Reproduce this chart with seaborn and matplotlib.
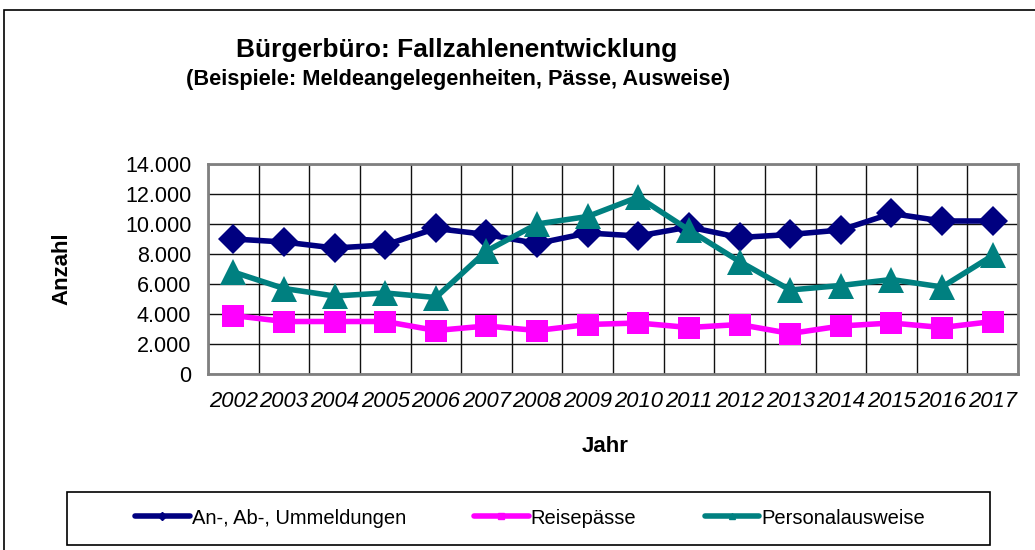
import matplotlib
matplotlib.use('Agg')
import matplotlib.pyplot as plt
from matplotlib.lines import Line2D
from matplotlib.patches import Rectangle
from matplotlib.ticker import FixedLocator, FuncFormatter
import seaborn as sns
import pandas as pd

years = [str(y) for y in range(2002, 2018)]
meldungen = [9000, 8800, 8400, 8600, 9700, 9300, 8700, 9400,
             9200, 9800, 9100, 9300, 9600, 10700, 10200, 10200]
reisepaesse = [3900, 3500, 3500, 3500, 2900, 3200, 2900, 3300,
               3400, 3100, 3300, 2700, 3200, 3400, 3100, 3500]
ausweise = [6800, 5700, 5200, 5400, 5100, 8200, 10000, 10500,
            11800, 9600, 7500, 5600, 5900, 6300, 5800, 7900]

series = ['An-, Ab-, Ummeldungen', 'Reisepässe', 'Personalausweise']
colors = {series[0]: '#000080', series[1]: '#FF00FF', series[2]: '#008080'}
markers = {series[0]: 'D', series[1]: 's', series[2]: '^'}
msize = {series[0]: 15, series[1]: 16.5, series[2]: 19}

df = pd.DataFrame({'Jahr': years * 3,
                   'Anzahl': meldungen + reisepaesse + ausweise,
                   'Serie': [s for s in series for _ in years]})
df['pos'] = df['Jahr'].map({y: i for i, y in enumerate(years)})

sns.set_style('white')
plt.rcParams['font.family'] = ['Liberation Sans', 'DejaVu Sans']
plt.rcParams['text.color'] = 'black'
plt.rcParams['axes.labelcolor'] = 'black'
plt.rcParams['xtick.color'] = 'black'
plt.rcParams['ytick.color'] = 'black'

fig = plt.figure(figsize=(10.35, 5.5), dpi=100)
ax = fig.add_axes([208 / 1035, 1 - 374 / 550, (1018 - 208) / 1035, 210 / 550])

for s in series:
    sns.lineplot(data=df[df['Serie'] == s], x='pos', y='Anzahl', ax=ax,
                 color=colors[s], marker=markers[s], markersize=msize[s],
                 markeredgewidth=0, linewidth=4, legend=False, zorder=3)

ax.set_xlim(-0.5, len(years) - 0.5)
ax.set_ylim(0, 14000)
ax.yaxis.set_major_locator(FixedLocator(range(0, 14001, 2000)))
ax.yaxis.set_major_formatter(FuncFormatter(lambda v, p: f'{int(v):,}'.replace(',', '.')))
ax.set_xticks(range(len(years)))
ax.set_xticklabels(years, fontstyle='italic', fontsize=15.8)
ax.xaxis.set_minor_locator(FixedLocator([i - 0.5 for i in range(len(years) + 1)]))
ax.tick_params(axis='x', which='major', length=0, pad=12)
ax.tick_params(axis='x', which='minor', length=6, width=1.2, color='#555555', direction='out')
ax.tick_params(axis='y', length=6, width=1.2, color='#555555', direction='out',
               labelsize=15.5, labelcolor='black', pad=6)
ax.grid(True, axis='y', which='major', color='#111111', linewidth=1)
ax.grid(True, axis='x', which='minor', color='#111111', linewidth=1)
for sp in ax.spines.values():
    sp.set_visible(True)
    sp.set_color('#808080')
    sp.set_linewidth(2)

ax.set_xlabel('Jahr', fontsize=16, fontweight='bold')
ax.xaxis.set_label_coords((605 - 208) / (1018 - 208), -(447 - 374) / 210)
ax.xaxis.label.set_va('center')
ax.set_ylabel('Anzahl', fontsize=16, fontweight='bold', labelpad=38)

fig.text(457 / 1035, 1 - 50 / 550, 'Bürgerbüro: Fallzahlenentwicklung',
         ha='center', va='center', fontsize=19, fontweight='bold')
fig.text(458 / 1035, 1 - 80 / 550, '(Beispiele: Meldeangelegenheiten, Pässe, Ausweise)',
         ha='center', va='center', fontsize=15.7, fontweight='bold')

handles = [Line2D([], [], color=colors[s], marker=markers[s], markersize=4,
                  linewidth=4, solid_capstyle='round') for s in series]
leg = fig.legend(handles, series, loc='center', ncol=3, fontsize=14.5,
                 bbox_to_anchor=(530 / 1035, 1 - 518 / 550), frameon=False,
                 handlelength=2.7, handletextpad=0.1, columnspacing=3.4)

fig.patches.append(Rectangle((67 / 1035, 1 - 545 / 550), (990 - 67) / 1035, 53 / 550,
                             fill=False, edgecolor='#000000', linewidth=1.2,
                             transform=fig.transFigure, figure=fig))
fig.patches.append(Rectangle((4 / 1035, -0.1), 1.2, 0.1 + 1 - 10 / 550, fill=False,
                             edgecolor='#000000', linewidth=1.2, transform=fig.transFigure,
                             figure=fig))

fig.savefig('out.png', dpi=100)
